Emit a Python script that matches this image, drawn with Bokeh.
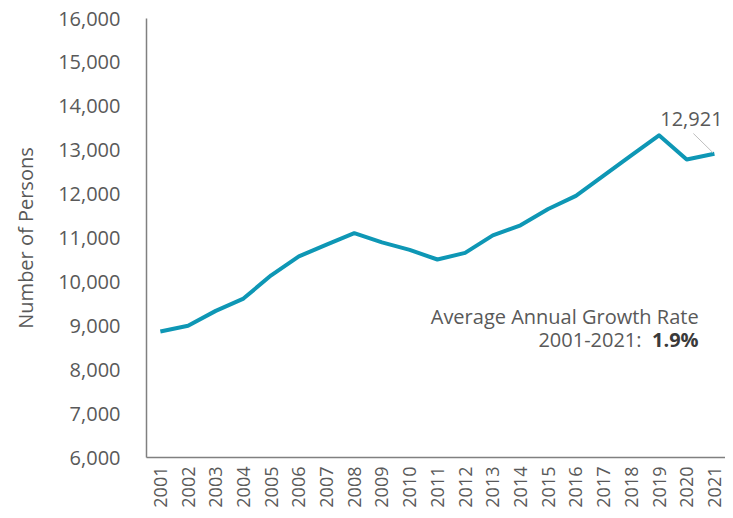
import math
from bokeh.plotting import figure
from bokeh.models import FixedTicker, NumeralTickFormatter, Label, ColumnDataSource
from bokeh.embed import file_html
from bokeh.resources import INLINE

years = list(range(2001, 2022))
persons = [8870, 9000, 9340, 9620, 10150, 10580, 10850, 11110, 10900, 10730,
           10510, 10660, 11060, 11290, 11660, 11960, 12420, 12880, 13340, 12790, 12921]
y_ticks = [6000, 7000, 8000, 9000, 10000, 11000, 12000, 13000, 14000, 15000, 16000]
last_label = "12,921"
growth_line1 = "Average Annual Growth Rate"
growth_line2 = "2001-2021:"
growth_value = "1.9%"

FONT = "Open Sans"
GRAY = "#595959"

p = figure(width=725, height=510, output_backend="svg", toolbar_location=None,
           x_range=(2000.5, 2021.4), y_range=(6000, 16000),
           min_border_left=146, min_border_right=0, min_border_top=18, min_border_bottom=50)
p.outline_line_color = None
p.grid.visible = False
p.background_fill_color = "white"
p.border_fill_color = "white"

src = ColumnDataSource(dict(x=years, y=persons))
p.line("x", "y", source=src, line_color="#0E97B5", line_width=4, line_join="round")

# x axis
p.xaxis.ticker = FixedTicker(ticks=years)
p.xaxis.major_label_orientation = math.pi / 2
p.xaxis.major_label_text_font = FONT
p.xaxis.major_label_text_font_size = "18px"
p.xaxis.major_label_text_color = GRAY
p.xaxis.major_tick_line_color = None
p.xaxis.major_tick_out = 0
p.xaxis.major_tick_in = 0
p.xaxis.minor_tick_line_color = None
p.xaxis.minor_tick_out = 0
p.xaxis.axis_line_color = "#808080"
p.xaxis.axis_line_width = 1.5
p.xaxis.major_label_standoff = 9

# y axis
p.yaxis.ticker = FixedTicker(ticks=y_ticks)
p.yaxis.formatter = NumeralTickFormatter(format="0,0")
p.yaxis.major_label_text_font = FONT
p.yaxis.major_label_text_font_size = "20px"
p.yaxis.major_label_text_color = GRAY
p.yaxis.major_tick_line_color = None
p.yaxis.minor_tick_line_color = None
p.yaxis.axis_line_color = "#808080"
p.yaxis.axis_line_width = 1.5
p.yaxis.major_label_standoff = 20
p.yaxis.axis_label = "Number of Persons"
p.yaxis.axis_label_text_font = FONT
p.yaxis.axis_label_text_font_size = "20px"
p.yaxis.axis_label_text_font_style = "normal"
p.yaxis.axis_label_text_color = GRAY
p.yaxis.axis_label_standoff = 16

# last value annotation with leader line
lx, ly = years[-1], persons[-1]
p.segment(x0=[lx - 0.76], y0=[ly + 460], x1=[lx - 0.05], y1=[ly + 20],
          line_color="#BFBFBF", line_width=1)
p.add_layout(Label(x=lx - 0.83, y=ly + 800, text=last_label, text_align="center",
                   text_baseline="middle", text_font=FONT, text_font_size="20px",
                   text_color=GRAY))

# growth rate annotation
gx = 2020.43
p.add_layout(Label(x=gx, y=9212, text=growth_line1, text_align="right",
                   text_baseline="middle", text_font=FONT, text_font_size="20px",
                   text_color=GRAY))
p.add_layout(Label(x=gx, y=8688, text=growth_value, text_align="right",
                   text_baseline="middle", text_font=FONT, text_font_size="20px",
                   text_font_style="bold", text_color="#3A3A3A"))
p.add_layout(Label(x=gx - 2.06, y=8688, text=growth_line2, text_align="right",
                   text_baseline="middle", text_font=FONT, text_font_size="20px",
                   text_color=GRAY))

open("out.html", "w").write(file_html(p, INLINE))
